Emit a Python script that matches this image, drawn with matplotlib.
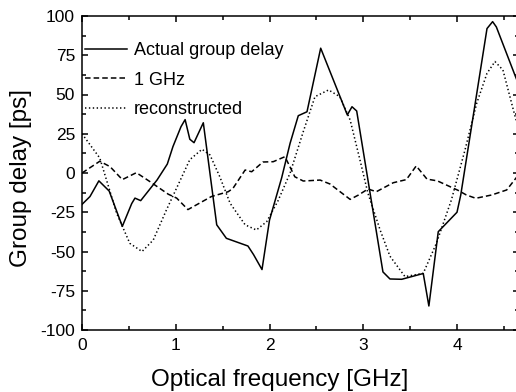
import matplotlib
matplotlib.use("Agg")
import matplotlib.pyplot as plt
from matplotlib.ticker import MultipleLocator

plt.rcParams['font.family'] = ['Liberation Sans', 'DejaVu Sans']
plt.rcParams['lines.scale_dashes'] = False

# Actual group delay (solid)
actual_x = [0, 0.085, 0.18, 0.29, 0.43, 0.53, 0.565, 0.626, 0.80, 0.91, 0.97, 1.056, 1.10,
            1.15, 1.195, 1.294, 1.437, 1.54, 1.77, 1.83, 1.92, 2.0, 2.13, 2.22, 2.307, 2.40,
            2.546, 2.83, 2.88, 2.93, 3.21, 3.285, 3.41, 3.64, 3.70, 3.80, 4.0, 4.04, 4.32,
            4.38, 4.42, 4.62, 4.70]
actual_y = [-20, -15, -5, -11.5, -34, -19.5, -16, -17.6, -4.5, 5.7, 16.8, 29.5, 34,
            21.5, 19.3, 32, -33, -41.6, -46.5, -52, -61.5, -30, -3, 19, 36.5, 39,
            79.5, 37, 42.2, 39.5, -63, -67.5, -67.7, -64, -84.7, -37.4, -25, -14, 92,
            96.4, 93, 62, 50]

# 1 GHz (dashed)
ghz_x = [0, 0.19, 0.30, 0.43, 0.58, 0.725, 0.92, 1.01, 1.13, 1.38, 1.56, 1.61, 1.74, 1.81,
         1.93, 2.04, 2.165, 2.27, 2.36, 2.54, 2.645, 2.86, 2.95, 3.05, 3.14, 3.32, 3.46,
         3.565, 3.68, 3.79, 4.01, 4.10, 4.20, 4.37, 4.53, 4.64, 4.70]
ghz_y = [0, 7.5, 4, -4.2, 0.2, -5.5, -13.5, -16, -23.3, -15, -11.9, -9.8, 1.9, 0.8,
         7, 7.2, 10.4, -2.4, -5.1, -4.5, -7, -16.8, -14, -10.2, -11.9, -6.2, -4.2,
         4.5, -3.9, -5, -11, -14, -16.1, -14, -10.8, -2.4, 2]

# reconstructed (dotted)
rec_x = [0, 0.19, 0.37, 0.51, 0.64, 0.76, 0.90, 1.045, 1.15, 1.28, 1.365, 1.47, 1.58, 1.74,
         1.86, 1.97, 2.09, 2.22, 2.36, 2.485, 2.63, 2.75, 2.86, 2.965, 3.05, 3.18, 3.285,
         3.445, 3.64, 3.78, 3.94, 4.085, 4.21, 4.32, 4.405, 4.49, 4.62, 4.70]
rec_y = [25, 9.5, -25.7, -44.8, -50, -42.7, -23.6, -5, 8.5, 15.1, 11.5, -2.4, -19.3, -33,
         -36.3, -31, -17.8, 0, 26.3, 48.6, 52.9, 48.6, 33.8, 8.3, -12.9, -36.3, -53,
         -66, -63.9, -44.8, -17.2, 14.6, 44.4, 63.5, 71, 65.6, 35.9, 20]

labels = ["Actual group delay", "1 GHz", "reconstructed"]
xticks = [0, 1, 2, 3, 4]
yticks = [-100, -75, -50, -25, 0, 25, 50, 75, 100]

fig = plt.figure(figsize=(5.16, 3.92), dpi=100)
ax = fig.add_axes([82/516, 1-330/392, (519-82)/516, 314/392])

lw = 1.1
ax.plot(actual_x, actual_y, color='black', lw=lw, linestyle='-', label=labels[0])
ax.plot(ghz_x, ghz_y, color='black', lw=lw, linestyle=(0, (4, 2.2)), label=labels[1])
ax.plot(rec_x, rec_y, color='black', lw=lw, linestyle=(0, (1, 1.8)), label=labels[2])

ax.set_xlim(0, (519-82)/93.75)
ax.set_ylim(-100, 100)
ax.set_xticks(xticks)
ax.set_yticks(yticks)
ax.set_yticklabels([str(v) for v in yticks])
ax.xaxis.set_minor_locator(MultipleLocator(0.5))
ax.yaxis.set_minor_locator(MultipleLocator(12.5))
ax.tick_params(which='both', direction='in', top=True, right=True, width=1.1, labelsize=12.5, color='black')
ax.tick_params(which='major', length=4.5)
ax.tick_params(which='minor', length=3)
ax.tick_params(axis='x', pad=6)
ax.tick_params(axis='y', pad=5)
for s in ax.spines.values():
    s.set_linewidth(1.1)

ax.set_xlabel("Optical frequency [GHz]", fontsize=17.5)
ax.xaxis.set_label_coords((280-82)/437, (330-369)/314)
ax.set_ylabel("Group delay [ps]", fontsize=17.5)
ax.yaxis.set_label_coords((32-82)/437, (330-178)/314)

ax.legend(loc='upper left', bbox_to_anchor=((85-82)/437, (330-42)/314), frameon=False,
          borderpad=0, borderaxespad=0, handlelength=2.3, handletextpad=0.42,
          labelspacing=0.70, fontsize=13)

fig.savefig("out.png", dpi=100)
